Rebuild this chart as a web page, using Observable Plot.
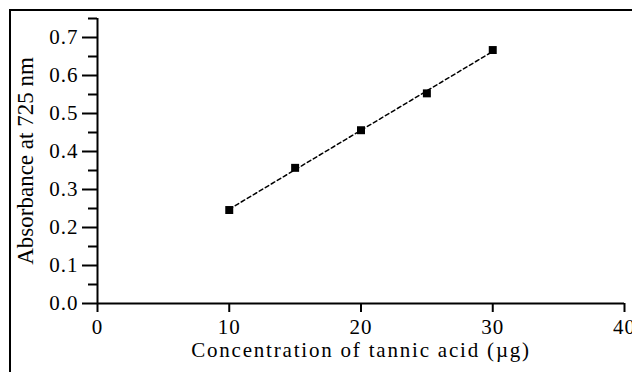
<!DOCTYPE html>
<html>
<head>
<meta charset="utf-8">
<script src="https://cdn.jsdelivr.net/npm/d3@7"></script>
<script src="https://cdn.jsdelivr.net/npm/@observablehq/plot@0.6"></script>
<style>
  html, body { margin: 0; padding: 0; background: #fff; }
  #wrap { position: relative; width: 632px; height: 372px; overflow: hidden; }
  #border { position: absolute; left: 9px; top: 9px; width: 700px; height: 500px;
            border-left: 2px solid #000; border-top: 2px solid #000; }
  #chart { position: absolute; left: 0; top: 0; }
</style>
</head>
<body>
<div id="wrap"><div id="border"></div><div id="chart"></div></div>
<script>
const concentration = [10, 15, 20, 25, 30];
const absorbance = [0.246, 0.357, 0.456, 0.553, 0.667];
const xTicks = [0, 10, 20, 30, 40];
const yTicks = [0, 0.1, 0.2, 0.3, 0.4, 0.5, 0.6, 0.7];
const yMinorTicks = [0.05, 0.15, 0.25, 0.35, 0.45, 0.55, 0.65, 0.75];
const xTitle = "Concentration of tannic acid (\u00b5g)";
const yTitle = "Absorbance at 725 nm";

const data = concentration.map((c, i) => ({c, a: absorbance[i]}));

const chart = Plot.plot({
  width: 632,
  height: 372,
  marginLeft: 97,
  marginRight: 8,
  marginTop: 18,
  marginBottom: 69,
  style: {fontFamily: "'Liberation Serif', serif", fontSize: "21px", background: "transparent", color: "#000", overflow: "visible"},
  x: {domain: [0, 40]},
  y: {domain: [0, 0.75]},
  marks: [
    Plot.axisY({ticks: yMinorTicks, tickSize: 9, text: null, label: null, strokeWidth: 2}),
    Plot.axisY({ticks: yTicks, tickSize: 15, tickPadding: 4, tickFormat: d3.format(".1f"), label: null, strokeWidth: 2}),
    Plot.axisX({ticks: xTicks, tickSize: 9, tickPadding: 7, label: null, strokeWidth: 2}),
    Plot.ruleX([0], {y1: 0, y2: 0.75, strokeWidth: 2}),
    Plot.ruleY([0], {x1: 0, x2: 40, strokeWidth: 2}),
    Plot.linearRegressionY(data, {x: "c", y: "a", ci: 0, stroke: "#000", strokeWidth: 1.5, strokeDasharray: "4,3"}),
    Plot.dot(data, {x: "c", y: "a", symbol: "square", r: 4.5, fill: "#000", stroke: "none"}),
    Plot.text([yTitle], {frameAnchor: "left", textAnchor: "middle", rotate: -90, dx: -72, fontSize: 23}),
    Plot.text([xTitle], {frameAnchor: "bottom", dy: 53, fontSize: 21})
  ]
});
document.getElementById("chart").appendChild(chart);
d3.select(chart).selectAll("text").filter(function() { return this.textContent === xTitle; })
  .attr("letter-spacing", "1.8px");
d3.select(chart).selectAll("g[aria-label='y-axis tick label'] text, g[aria-label='x-axis tick label'] text")
  .attr("letter-spacing", "1px");
</script>
</body>
</html>
